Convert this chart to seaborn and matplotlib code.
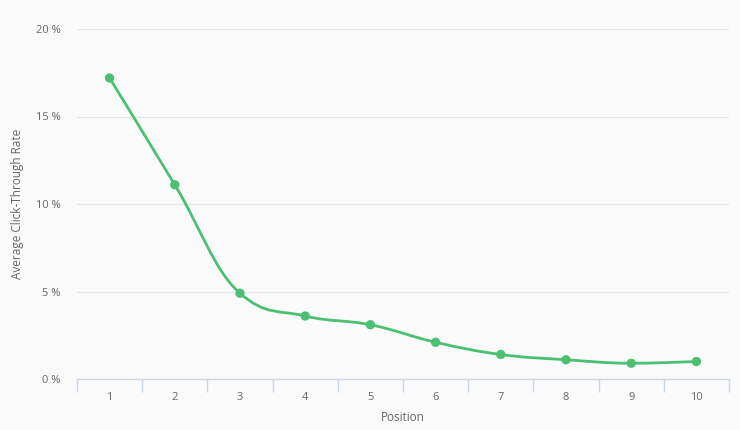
import matplotlib
matplotlib.use("Agg")
import matplotlib.pyplot as plt
from matplotlib.path import Path
from matplotlib.patches import PathPatch
import numpy as np
import pandas as pd
import seaborn as sns

# Data
positions = ["1", "2", "3", "4", "5", "6", "7", "8", "9", "10"]
ctr = [17.2, 11.1, 4.9, 3.6, 3.1, 2.1, 1.4, 1.1, 0.9, 1.0]
y_ticks = [0, 5, 10, 15, 20]

GREEN = "#4cbf72"
TEXT = "#666666"
AXIS = "#ccd6eb"
GRID = "#e6e6e6"
BG = "#fafafa"


def spline_path(xs, ys, smoothing=1.5):
    """Highcharts-like spline: cubic bezier segments through the points."""
    n = len(xs)
    denom = smoothing + 1
    left = [(x, y) for x, y in zip(xs, ys)]
    right = [(x, y) for x, y in zip(xs, ys)]
    for i in range(1, n - 1):
        px, py = xs[i], ys[i]
        lx = (smoothing * px + xs[i - 1]) / denom
        ly = (smoothing * py + ys[i - 1]) / denom
        rx = (smoothing * px + xs[i + 1]) / denom
        ry = (smoothing * py + ys[i + 1]) / denom
        if rx != lx:
            corr = (ry - ly) * (rx - px) / (rx - lx) + py - ry
            ly += corr
            ry += corr
        lo, hi = min(ys[i - 1], py), max(ys[i - 1], py)
        if ly > hi:
            ly = hi
            ry = 2 * py - ly
        elif ly < lo:
            ly = lo
            ry = 2 * py - ly
        lo, hi = min(ys[i + 1], py), max(ys[i + 1], py)
        if ry > hi:
            ry = hi
            ly = 2 * py - ry
        elif ry < lo:
            ry = lo
            ly = 2 * py - ry
        left[i] = (lx, ly)
        right[i] = (rx, ry)
    verts = [(xs[0], ys[0])]
    codes = [Path.MOVETO]
    for i in range(1, n):
        verts += [right[i - 1], left[i], (xs[i], ys[i])]
        codes += [Path.CURVE4] * 3
    return Path(verts, codes)


df = pd.DataFrame({"Position": positions, "CTR": ctr})
df["x"] = np.arange(len(df))

sns.set_theme(style="white")
plt.rcParams["font.family"] = ["Open Sans", "DejaVu Sans"]

fig = plt.figure(figsize=(7.4, 4.3), dpi=100)
fig.patch.set_facecolor(BG)
ax = fig.add_axes([77 / 740, 51 / 430, 652 / 740, 350 / 430])
ax.set_facecolor(BG)

ax.add_patch(PathPatch(spline_path(list(df["x"]), list(df["CTR"])),
                       facecolor="none", edgecolor=GREEN, lw=2, zorder=3))
sns.scatterplot(data=df, x="x", y="CTR", ax=ax, color=GREEN, s=45,
                edgecolor="none", zorder=4, legend=False)

ax.set_xlim(-0.5, len(df) - 0.5)
ax.set_ylim(0, 20)
ax.set_yticks(y_ticks)
ax.set_yticklabels([f"{t} %" for t in y_ticks], color=TEXT, fontsize=8)
ax.set_xticks(df["x"])
ax.set_xticklabels(df["Position"], color=TEXT, fontsize=8)
ax.set_xticks(np.arange(len(df) + 1) - 0.5, minor=True)
ax.tick_params(axis="x", which="major", length=0, pad=9)
ax.tick_params(axis="x", which="minor", bottom=True, length=9, color=AXIS,
               width=1, direction="out")
ax.tick_params(axis="y", length=0, pad=12)

ax.grid(axis="y", color=GRID, lw=1)
ax.set_axisbelow(True)
for side in ["top", "right", "left"]:
    ax.spines[side].set_visible(False)
ax.spines["bottom"].set_color(AXIS)
ax.spines["bottom"].set_linewidth(1)

ax.set_xlabel("Position", color=TEXT, fontsize=8.5, labelpad=6)
ax.set_ylabel("Average Click-Through Rate", color=TEXT, fontsize=8.5, labelpad=8)

fig.savefig("out.png", dpi=100, facecolor=BG)
